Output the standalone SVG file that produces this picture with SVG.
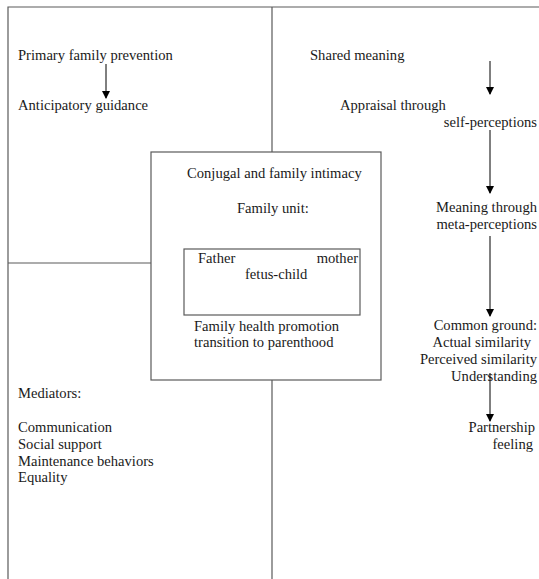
<svg xmlns="http://www.w3.org/2000/svg" width="539" height="579" viewBox="0 0 539 579">
<defs>
<marker id="ah" markerWidth="8" markerHeight="8" refX="7" refY="4" orient="auto" markerUnits="userSpaceOnUse">
<path d="M0,0 L8,4 L0,8 Z" fill="#000"/>
</marker>
<style>
text{font-family:'Liberation Serif','Times New Roman',serif;font-size:14.6px;fill:#1a1a1a}
.e{text-anchor:end}
.frame{stroke:#5a5a5a;stroke-width:1.2;fill:none}
.arr{stroke:#000;stroke-width:1;fill:none;marker-end:url(#ah)}
</style>
</defs>
<rect width="539" height="579" fill="#fff"/>
<g id="frame">
<path class="frame" d="M8,579 V7 H539 M272,7 V152 M272,380 V579 M8,263 H151"/>
</g>
<g id="n-primary">
<text x="18" y="60">Primary family prevention</text>
</g>
<g id="n-anticipatory">
<text x="18" y="110">Anticipatory guidance</text>
</g>
<g id="n-shared">
<text x="310" y="60">Shared meaning</text>
</g>
<g id="n-appraisal">
<text x="340" y="110">Appraisal through</text>
<text x="537" y="127" class="e">self-perceptions</text>
</g>
<g id="n-meaning">
<text x="537" y="212" class="e">Meaning through</text>
<text x="537" y="229" class="e">meta-perceptions</text>
</g>
<g id="n-common">
<text x="537" y="330" class="e">Common ground:</text>
<text x="531" y="347" class="e">Actual similarity</text>
<text x="537" y="364" class="e">Perceived similarity</text>
<text x="537" y="381" class="e">Understanding</text>
</g>
<g id="n-partnership">
<text x="535" y="432" class="e">Partnership</text>
<text x="533" y="449" class="e">feeling</text>
</g>
<g id="n-center">
<rect class="frame" x="151" y="152" width="230" height="228"/>
<text x="187" y="178">Conjugal and family intimacy</text>
<text x="237" y="213">Family unit:</text>
<text x="194" y="331">Family health promotion</text>
<text x="194" y="347">transition to parenthood</text>
</g>
<g id="n-unit">
<rect class="frame" x="184" y="249" width="176" height="66"/>
<text x="198" y="263">Father</text>
<text x="358" y="263" class="e">mother</text>
<text x="245" y="279">fetus-child</text>
</g>
<g id="n-mediators">
<text x="18" y="398">Mediators:</text>
<text x="18" y="432">Communication</text>
<text x="18" y="449">Social support</text>
<text x="18" y="466">Maintenance behaviors</text>
<text x="18" y="482">Equality</text>
</g>
<g id="connectors">
<line class="arr" x1="106" y1="64" x2="106" y2="98"/>
<line class="arr" x1="490" y1="61" x2="490" y2="94"/>
<line class="arr" x1="490" y1="130" x2="490" y2="193"/>
<line class="arr" x1="490" y1="236" x2="490" y2="316"/>
<line class="arr" x1="490" y1="373" x2="490" y2="421"/>
</g>
</svg>
